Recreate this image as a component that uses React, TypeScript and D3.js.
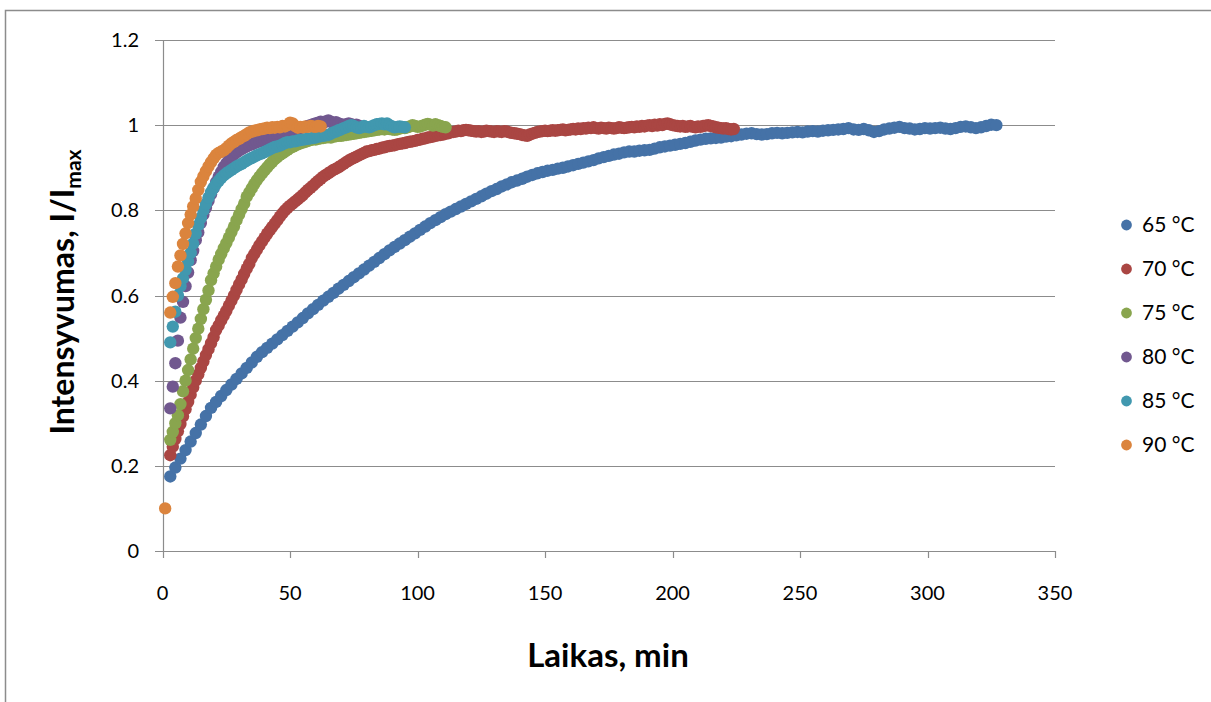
import React from "react";
import * as d3 from "d3";

const seriesNames = ["65 °C", "70 °C", "75 °C", "80 °C", "85 °C", "90 °C"];
const seriesColors = ["#4572A7", "#AA4643", "#89A54E", "#71588F", "#4198AF", "#DB843D"];
const xTicks = [0, 50, 100, 150, 200, 250, 300, 350];
const yTicks = [0, 0.2, 0.4, 0.6, 0.8, 1.0, 1.2];
const yTickLabels = ["0", "0.2", "0.4", "0.6", "0.8", "1", "1.2"];

// 65 °C, sampled every 2 min from t = 3
const t65 = d3.range(3, 328, 2);
const v65 = [
  0.175, 0.196, 0.217, 0.237, 0.257, 0.277, 0.297, 0.317, 0.336, 0.350,
  0.364, 0.378, 0.391, 0.404, 0.417, 0.430, 0.443, 0.456, 0.467, 0.477,
  0.487, 0.497, 0.507, 0.517, 0.527, 0.537, 0.547, 0.558, 0.568, 0.578,
  0.588, 0.597, 0.606, 0.616, 0.625, 0.634, 0.643, 0.652, 0.661, 0.670,
  0.679, 0.688, 0.697, 0.706, 0.714, 0.722, 0.730, 0.738, 0.746, 0.754,
  0.762, 0.770, 0.777, 0.784, 0.791, 0.797, 0.803, 0.809, 0.815, 0.821,
  0.827, 0.833, 0.839, 0.845, 0.850, 0.856, 0.861, 0.866, 0.870, 0.874,
  0.879, 0.883, 0.887, 0.890, 0.893, 0.895, 0.898, 0.900, 0.903, 0.906,
  0.909, 0.912, 0.915, 0.918, 0.922, 0.925, 0.928, 0.931, 0.933, 0.936,
  0.938, 0.938, 0.940, 0.941, 0.942, 0.945, 0.948, 0.950, 0.952, 0.954,
  0.956, 0.958, 0.961, 0.964, 0.966, 0.968, 0.969, 0.970, 0.971, 0.973,
  0.974, 0.976, 0.978, 0.980, 0.981, 0.979, 0.978, 0.979, 0.981, 0.982,
  0.981, 0.982, 0.983, 0.984, 0.983, 0.985, 0.986, 0.985, 0.987, 0.988,
  0.989, 0.990, 0.991, 0.993, 0.990, 0.989, 0.991, 0.988, 0.984, 0.986,
  0.990, 0.992, 0.994, 0.996, 0.993, 0.992, 0.990, 0.991, 0.993, 0.992,
  0.993, 0.994, 0.992, 0.991, 0.993, 0.996, 0.997, 0.995, 0.993, 0.995,
  0.998, 1.001, 1.000,
];

// 70 °C, every 1 min from t = 3
const t70 = d3.range(3, 225, 1);
const v70 = [
  0.225, 0.245, 0.263, 0.281, 0.298, 0.316, 0.333, 0.350, 0.367, 0.384,
  0.400, 0.415, 0.430, 0.445, 0.460, 0.474, 0.488, 0.502, 0.519, 0.530,
  0.542, 0.553, 0.564, 0.576, 0.588, 0.600, 0.613, 0.626, 0.638, 0.651,
  0.663, 0.674, 0.688, 0.698, 0.708, 0.718, 0.727, 0.736, 0.745, 0.753,
  0.761, 0.769, 0.777, 0.785, 0.793, 0.800, 0.806, 0.811, 0.816, 0.821,
  0.826, 0.831, 0.836, 0.842, 0.848, 0.853, 0.858, 0.864, 0.869, 0.874,
  0.879, 0.883, 0.887, 0.891, 0.895, 0.898, 0.901, 0.905, 0.909, 0.913,
  0.917, 0.920, 0.923, 0.926, 0.929, 0.932, 0.935, 0.938, 0.939, 0.941,
  0.942, 0.944, 0.945, 0.947, 0.948, 0.950, 0.951, 0.952, 0.953, 0.955,
  0.956, 0.957, 0.958, 0.960, 0.961, 0.962, 0.963, 0.965, 0.966, 0.968,
  0.969, 0.971, 0.972, 0.973, 0.975, 0.976, 0.977, 0.978, 0.980, 0.981,
  0.983, 0.984, 0.985, 0.987, 0.986, 0.988, 0.989, 0.988, 0.987, 0.986,
  0.985, 0.986, 0.984, 0.985, 0.987, 0.986, 0.985, 0.984, 0.986, 0.985,
  0.984, 0.986, 0.985, 0.983, 0.982, 0.981, 0.980, 0.979, 0.977, 0.976,
  0.975, 0.978, 0.980, 0.982, 0.984, 0.985, 0.986, 0.987, 0.986, 0.987,
  0.988, 0.987, 0.988, 0.989, 0.990, 0.988, 0.989, 0.990, 0.991, 0.990,
  0.992, 0.991, 0.993, 0.992, 0.994, 0.993, 0.995, 0.993, 0.992, 0.994,
  0.993, 0.992, 0.994, 0.993, 0.992, 0.993, 0.995, 0.994, 0.993, 0.994,
  0.995, 0.996, 0.995, 0.997, 0.996, 0.998, 0.997, 0.999, 1.000, 0.998,
  1.001, 0.999, 1.002, 1.000, 1.003, 1.004, 1.002, 1.000, 0.999, 0.998,
  0.997, 0.998, 0.996, 0.997, 0.998, 0.996, 0.995, 0.997, 0.996, 0.998,
  0.999, 1.000, 0.998, 0.997, 0.995, 0.994, 0.993, 0.992, 0.993, 0.991,
  0.990, 0.991,
];

// 75 °C, every 1 min from t = 3
const t75 = d3.range(3, 112, 1);
const v75 = [
  0.261, 0.280, 0.300, 0.319, 0.345, 0.375, 0.400, 0.425, 0.450, 0.475,
  0.500, 0.522, 0.545, 0.568, 0.590, 0.612, 0.636, 0.652, 0.668, 0.684,
  0.698, 0.711, 0.723, 0.736, 0.749, 0.762, 0.777, 0.790, 0.803, 0.816,
  0.832, 0.842, 0.852, 0.862, 0.871, 0.879, 0.887, 0.894, 0.901, 0.908,
  0.914, 0.920, 0.925, 0.930, 0.934, 0.938, 0.942, 0.946, 0.949, 0.952,
  0.955, 0.957, 0.959, 0.961, 0.963, 0.965, 0.967, 0.966, 0.968, 0.969,
  0.970, 0.971, 0.972, 0.971, 0.973, 0.974, 0.975, 0.975, 0.976, 0.977,
  0.978, 0.979, 0.980, 0.981, 0.982, 0.983, 0.984, 0.985, 0.986, 0.987,
  0.988, 0.989, 0.990, 0.991, 0.990, 0.992, 0.991, 0.990, 0.989, 0.990,
  0.992, 0.994, 0.993, 0.995, 0.997, 1.000, 0.998, 0.996, 0.997, 0.999,
  1.001, 1.003, 1.001, 0.999, 1.002, 1.000, 0.998, 0.996, 0.995,
];

// 80 °C, every 1 min from t = 3
const t80 = d3.range(3, 78, 1);
const v80 = [
  0.335, 0.386, 0.441, 0.494, 0.548, 0.585, 0.622, 0.654, 0.683, 0.705,
  0.730, 0.748, 0.770, 0.790, 0.806, 0.822, 0.838, 0.852, 0.866, 0.879,
  0.890, 0.902, 0.910, 0.918, 0.925, 0.931, 0.936, 0.940, 0.944, 0.947,
  0.950, 0.953, 0.955, 0.958, 0.960, 0.962, 0.964, 0.966, 0.968, 0.969,
  0.971, 0.973, 0.975, 0.977, 0.979, 0.981, 0.983, 0.985, 0.987, 0.989,
  0.991, 0.993, 0.995, 0.996, 0.998, 1.000, 1.002, 1.004, 1.006, 1.008,
  1.005, 1.009, 1.011, 1.008, 1.005, 1.007, 1.004, 1.002, 1.000, 1.002,
  1.004, 1.002, 1.000, 1.001, 0.999,
];

// 85 °C, every 1 min from t = 3
const t85 = d3.range(3, 96, 1);
const v85 = [
  0.490, 0.527, 0.562, 0.600, 0.622, 0.640, 0.660, 0.680, 0.700, 0.722,
  0.745, 0.765, 0.782, 0.800, 0.815, 0.830, 0.843, 0.853, 0.862, 0.869,
  0.876, 0.882, 0.887, 0.891, 0.895, 0.899, 0.903, 0.906, 0.909, 0.913,
  0.917, 0.920, 0.923, 0.926, 0.929, 0.932, 0.934, 0.937, 0.940, 0.943,
  0.946, 0.949, 0.950, 0.952, 0.955, 0.958, 0.960, 0.960, 0.962, 0.962,
  0.964, 0.965, 0.966, 0.967, 0.968, 0.969, 0.970, 0.971, 0.973, 0.974,
  0.975, 0.976, 0.977, 0.980, 0.983, 0.985, 0.988, 0.990, 0.993, 0.995,
  0.998, 1.000, 0.998, 0.995, 0.993, 0.995, 0.998, 0.996, 0.995, 0.997,
  1.000, 1.002, 1.003, 1.004, 1.002, 1.004, 1.000, 0.997, 0.995, 0.996,
  0.997, 0.996, 0.995,
];

// 90 °C: first reading at t = 1, then every 1 min from t = 3
const t90 = [1, ...d3.range(3, 63, 1)];
const v90 = [
  0.100,
  0.560, 0.597, 0.629, 0.668, 0.694, 0.721, 0.746, 0.770, 0.790, 0.809,
  0.828, 0.848, 0.867, 0.880, 0.892, 0.903, 0.913, 0.922, 0.930, 0.935,
  0.938, 0.941, 0.946, 0.952, 0.957, 0.961, 0.965, 0.968, 0.972, 0.975,
  0.979, 0.983, 0.985, 0.987, 0.988, 0.990, 0.991, 0.992, 0.994, 0.993,
  0.995, 0.994, 0.996, 0.995, 0.998, 0.997, 1.000, 1.006, 1.004, 0.998,
  0.994, 0.996, 0.995, 0.997, 0.996, 0.998, 0.997, 0.996, 0.998, 0.997,
];

const seriesTimes = [t65, t70, t75, t80, t85, t90];
const seriesValues = [v65, v70, v75, v80, v85, v90];

const W = 1211;
const H = 702;
const FONT = "Lato, 'Open Sans', sans-serif";
const GRID = "#8c8c8c";

export default function App() {
  const x = d3.scaleLinear().domain([0, 350]).range([162.6, 1055]);
  const y = d3.scaleLinear().domain([0, 1.2]).range([551, 40]);

  return (
    <div>
      <style>{`body{margin:0;background:#fff}`}</style>
      <svg width={W} height={H} style={{ display: "block" }} fontFamily={FONT}>
        <rect x={0} y={0} width={W} height={H} fill="#fff" />
        {/* chart border (continues beyond the picture on right/bottom) */}
        <rect x={5.5} y={10.5} width={W + 20} height={H + 20} fill="none" stroke={GRID} strokeWidth={1.5} />

        {/* gridlines */}
        {yTicks.map((t, i) => (
          <line key={"g" + i} x1={155} x2={x(350)} y1={Math.round(y(t)) + 0.5} y2={Math.round(y(t)) + 0.5}
            stroke={GRID} strokeWidth={1.2} />
        ))}
        {/* y axis */}
        <line x1={Math.round(x(0)) + 0.5} x2={Math.round(x(0)) + 0.5} y1={y(1.2)} y2={y(0)} stroke={GRID} strokeWidth={1.2} />
        {/* x ticks */}
        {xTicks.map((t, i) => (
          <line key={"xt" + i} x1={Math.round(x(t)) + 0.5} x2={Math.round(x(t)) + 0.5} y1={y(0)} y2={y(0) + 7}
            stroke={GRID} strokeWidth={1.2} />
        ))}
        {/* y tick labels */}
        {yTicks.map((t, i) => (
          <text key={"yl" + i} x={139} y={y(t)} dy="0.35em" textAnchor="end" fontSize={20} fill="#000">
            {yTickLabels[i]}
          </text>
        ))}
        {/* x tick labels */}
        {xTicks.map((t, i) => (
          <text key={"xl" + i} x={x(t)} y={600} textAnchor="middle" fontSize={20} fill="#000">
            {String(t)}
          </text>
        ))}

        {/* series markers */}
        {seriesValues.map((vals, si) => (
          <g key={"s" + si} fill={seriesColors[si]}>
            {vals.map((v, j) => (
              <circle key={j} cx={x(seriesTimes[si][j])} cy={y(v)} r={6.2} />
            ))}
          </g>
        ))}

        {/* axis titles */}
        <text x={608} y={667} textAnchor="middle" fontSize={33} fontWeight="bold" fill="#000">
          Laikas, min
        </text>
        <text transform="translate(74,292) rotate(-90)" textAnchor="middle" fontSize={32} fontWeight="bold" fill="#000">
          Intensyvumas, I/I<tspan fontSize={21} dy={7}>max</tspan>
        </text>

        {/* legend */}
        {seriesNames.map((n, i) => (
          <g key={"lg" + i} transform={`translate(0, ${225 + i * 44})`}>
            <circle cx={1126.5} cy={0} r={5.4} fill={seriesColors[i]} />
            <text x={1142} y={0} dy="0.35em" fontSize={21} fill="#000">{n}</text>
          </g>
        ))}
      </svg>
    </div>
  );
}
